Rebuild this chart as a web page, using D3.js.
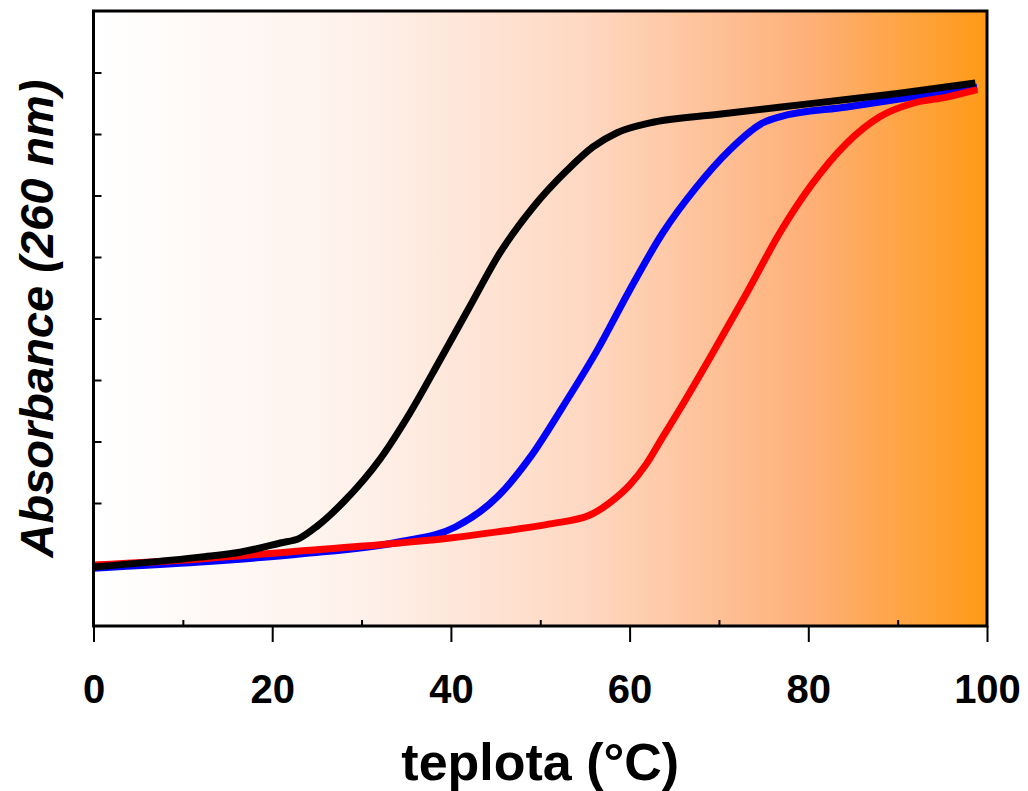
<!DOCTYPE html>
<html>
<head>
<meta charset="utf-8">
<script src="https://cdn.jsdelivr.net/npm/d3@7"></script>
<style>
  body { margin: 0; background: #fff; }
  text { font-family: 'Liberation Sans', Arial, sans-serif; font-weight: bold; fill: #000; }
</style>
</head>
<body>
<div id="chart"></div>
<script>
// temperature (°C) / absorbance (arbitrary units)
const blackT = [0, 11.9, 16.4, 20.9, 23.1, 25.0, 28.0, 32.1, 35.4, 38.8, 42.1, 45.5, 49.2, 53.0, 55.9, 58.6, 62.3, 70.0, 80.0, 90.0, 98.7];
const blackA = [0.96, 1.12, 1.20, 1.35, 1.43, 1.62, 2.02, 2.72, 3.46, 4.33, 5.19, 6.07, 6.81, 7.41, 7.79, 8.02, 8.18, 8.32, 8.49, 8.66, 8.83];

const blueT = [0, 11.9, 23.1, 34.3, 40.5, 45.2, 48.9, 52.5, 56.4, 60.0, 63.7, 67.5, 71.2, 74.9, 76.8, 84.3, 91.7, 98.9];
const blueA = [0.94, 1.04, 1.17, 1.37, 1.61, 2.10, 2.75, 3.56, 4.49, 5.46, 6.39, 7.14, 7.74, 8.18, 8.28, 8.44, 8.60, 8.76];

const redT = [0, 11.9, 23.1, 34.3, 39.9, 45.2, 51.1, 55.5, 58.1, 60.0, 61.9, 63.7, 65.6, 69.3, 73.1, 76.8, 80.5, 84.3, 88.0, 91.7, 95.5, 98.9];
const redA = [0.99, 1.09, 1.22, 1.35, 1.43, 1.53, 1.66, 1.80, 2.04, 2.29, 2.64, 3.07, 3.52, 4.44, 5.41, 6.39, 7.20, 7.85, 8.28, 8.50, 8.60, 8.72];

const xMajorTicks = [0, 20, 40, 60, 80, 100];
const xMinorTicks = [10, 30, 50, 70, 90];
const yTicks = [1, 2, 3, 4, 5, 6, 7, 8, 9];

const xLabel = 'teplota (°C)';
const yLabel = 'Absorbance (260 nm)';

// draw order: blue under red under black
const series = [
  { name: 'blue', colour: '#0000ff', t: blueT, a: blueA },
  { name: 'red', colour: '#ff0000', t: redT, a: redA },
  { name: 'black', colour: '#000000', t: blackT, a: blackA }
];

const width = 1028, height = 791;
const margin = { top: 11, right: 41, bottom: 165, left: 93.5 };
const innerW = width - margin.left - margin.right;
const innerH = height - margin.top - margin.bottom;

const svg = d3.select('#chart').append('svg')
  .attr('width', width)
  .attr('height', height);

const chart = svg.append('g')
  .attr('transform', `translate(${margin.left},${margin.top})`);

const x = d3.scaleLinear().domain([0, 100]).range([0, innerW]);
const y = d3.scaleLinear().domain([0, 10]).range([innerH, 0]);

// background gradient
const grad = svg.append('defs').append('linearGradient')
  .attr('id', 'bg-gradient');
[
  { offset: 0, colour: '#ffffff' },
  { offset: 0.3, colour: '#fef1ea' },
  { offset: 0.55, colour: '#fed8c2' },
  { offset: 0.8, colour: '#feb078' },
  { offset: 1, colour: '#ff9a16' }
].forEach(s => grad.append('stop').attr('offset', s.offset).attr('stop-color', s.colour));

chart.append('rect')
  .attr('width', innerW)
  .attr('height', innerH)
  .attr('fill', 'url(#bg-gradient)');

// curves
const line = d3.line()
  .x(d => x(d[0]))
  .y(d => y(d[1]))
  .curve(d3.curveMonotoneX);

chart.selectAll('.curve')
  .data(series)
  .join('path')
  .attr('class', 'curve')
  .attr('fill', 'none')
  .attr('stroke', d => d.colour)
  .attr('stroke-width', 7)
  .attr('stroke-linejoin', 'round')
  .attr('d', d => line(d.t.map((t, i) => [t, d.a[i]])));

// frame
chart.append('rect')
  .attr('width', innerW)
  .attr('height', innerH)
  .attr('fill', 'none')
  .attr('stroke', '#000')
  .attr('stroke-width', 3);

// x axis: major ticks outward with labels, minor ticks inward
const xAxis = chart.append('g')
  .attr('transform', `translate(0,${innerH})`)
  .call(d3.axisBottom(x).tickValues(xMajorTicks).tickSize(16).tickSizeOuter(0));
xAxis.select('.domain').remove();
xAxis.selectAll('line').attr('stroke-width', 2);
xAxis.selectAll('text')
  .attr('font-size', 40)
  .attr('dy', null)
  .attr('y', 77);

const xMinor = chart.append('g')
  .attr('transform', `translate(0,${innerH})`)
  .call(d3.axisBottom(x).tickValues(xMinorTicks).tickSize(-6).tickFormat(''));
xMinor.select('.domain').remove();
xMinor.selectAll('line').attr('stroke-width', 2);

// y axis: inward ticks, no labels
const yAxis = chart.append('g')
  .call(d3.axisRight(y).tickValues(yTicks).tickSize(8).tickFormat(''));
yAxis.select('.domain').remove();
yAxis.selectAll('line').attr('stroke-width', 2);

// axis titles
svg.append('text')
  .attr('x', margin.left + innerW / 2)
  .attr('y', 780)
  .attr('text-anchor', 'middle')
  .attr('font-size', 52)
  .text(xLabel);

svg.append('text')
  .attr('transform', `translate(53,${margin.top + innerH / 2}) rotate(-90)`)
  .attr('text-anchor', 'middle')
  .attr('font-size', 47)
  .attr('font-style', 'italic')
  .text(yLabel);
</script>
</body>
</html>
